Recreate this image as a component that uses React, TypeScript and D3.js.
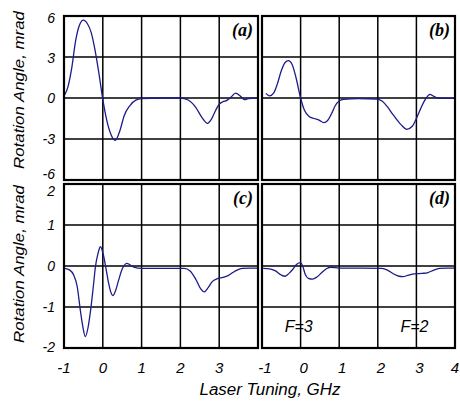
import React from "react";
import * as d3 from "d3";

// ---- data ----
const xTicks = [-1, 0, 1, 2, 3, 4];
const yTicksTop = [6, 3, 0, -3, -6];
const yTicksBottom = [2, 1, 0, -1, -2];

const seriesA: [number, number][] = [
  [-0.98, 0.25], [-0.9, 0.8], [-0.8, 2.2], [-0.7, 4.2], [-0.6, 5.35], [-0.5, 5.7],
  [-0.4, 5.45], [-0.3, 4.8], [-0.2, 3.5], [-0.1, 1.8], [0.0, -0.1], [0.1, -1.6],
  [0.2, -2.6], [0.32, -3.1], [0.45, -2.3], [0.55, -1.3], [0.7, -0.55], [0.85, -0.15],
  [1.0, -0.05], [1.5, 0], [2.0, 0], [2.2, -0.15], [2.4, -0.7], [2.55, -1.4],
  [2.7, -1.85], [2.8, -1.55], [2.9, -0.95], [3.0, -0.45], [3.1, -0.27], [3.2, -0.17],
  [3.3, 0.05], [3.42, 0.35], [3.55, 0.12], [3.65, -0.12], [3.75, -0.05], [3.98, 0],
];

const seriesB: [number, number][] = [
  [-0.9, 0.34], [-0.8, 0.15], [-0.7, 0.35], [-0.6, 1.05], [-0.5, 2.0], [-0.4, 2.6],
  [-0.32, 2.73], [-0.22, 2.45], [-0.12, 1.5], [0.0, 0.0], [0.1, -0.9], [0.22, -1.35],
  [0.35, -1.5], [0.48, -1.62], [0.6, -1.8], [0.7, -1.65], [0.8, -1.15], [0.9, -0.55],
  [1.0, -0.22], [1.11, -0.1], [1.5, -0.05], [1.97, -0.08], [2.1, -0.2], [2.25, -0.65],
  [2.4, -1.24], [2.6, -1.95], [2.75, -2.29], [2.9, -2.05], [3.0, -1.5], [3.1, -0.85],
  [3.2, -0.25], [3.28, 0.1], [3.35, 0.27], [3.45, 0.12], [3.55, 0.0], [3.7, -0.03],
  [4.0, -0.03],
];

const seriesC: [number, number][] = [
  [-0.98, -0.06], [-0.85, -0.1], [-0.75, -0.22], [-0.66, -0.5], [-0.58, -1.07],
  [-0.52, -1.45], [-0.45, -1.72], [-0.38, -1.5], [-0.32, -1.12], [-0.25, -0.55],
  [-0.19, -0.02], [-0.12, 0.32], [-0.06, 0.47], [0.02, 0.25], [0.08, -0.05],
  [0.15, -0.42], [0.2, -0.62], [0.26, -0.72], [0.33, -0.6], [0.41, -0.34],
  [0.48, -0.12], [0.54, -0.0], [0.62, 0.065], [0.7, 0.03], [0.8, -0.03],
  [1.0, -0.06], [1.5, -0.06], [2.1, -0.06], [2.25, -0.12], [2.4, -0.33],
  [2.52, -0.55], [2.62, -0.63], [2.72, -0.52], [2.82, -0.38], [2.95, -0.31],
  [3.1, -0.28], [3.24, -0.23], [3.35, -0.16], [3.46, -0.1], [3.6, -0.06],
  [3.8, -0.05], [4.0, -0.05],
];

const seriesD: [number, number][] = [
  [-0.97, -0.06], [-0.8, -0.07], [-0.65, -0.12], [-0.5, -0.22], [-0.4, -0.25],
  [-0.3, -0.18], [-0.2, -0.08], [-0.1, 0.04], [0.0, 0.08], [0.06, -0.02],
  [0.12, -0.2], [0.2, -0.3], [0.31, -0.32], [0.42, -0.27], [0.55, -0.16],
  [0.68, -0.06], [0.78, -0.03], [1.0, -0.05], [1.6, -0.05], [2.1, -0.06],
  [2.25, -0.1], [2.4, -0.19], [2.55, -0.25], [2.65, -0.26], [2.8, -0.22],
  [2.95, -0.19], [3.15, -0.18], [3.3, -0.16], [3.45, -0.1], [3.6, -0.06],
  [3.8, -0.05], [4.0, -0.05],
];

const panelLabels = ["(a)", "(b)", "(c)", "(d)"];
const yAxisLabel = "Rotation Angle, mrad";
const xAxisLabel = "Laser Tuning, GHz";
const hfsLabels: [number, string][] = [[-0.05, "F=3"], [2.95, "F=2"]];

// ---- layout ----
const cols = [
  { x0: 64, x1: 258 },
  { x0: 262, x1: 455 },
];
const rows = [
  { y0: 16, y1: 180, domain: [-6, 6], ticks: yTicksTop, dy: [7, 6, 5, 5, -1] },
  { y0: 184, y1: 348, domain: [-2, 2], ticks: yTicksBottom, dy: [12, 5, 5, 5, 4] },
];
const LINE = "#1c1c8a";
const SANS = "'Liberation Sans', Arial, Helvetica, sans-serif";
const SERIF = "'Liberation Serif', 'Times New Roman', serif";

type Panel = { c: number; r: number; data: [number, number][]; label: string };
const panels: Panel[] = [
  { c: 0, r: 0, data: seriesA, label: panelLabels[0] },
  { c: 1, r: 0, data: seriesB, label: panelLabels[1] },
  { c: 0, r: 1, data: seriesC, label: panelLabels[2] },
  { c: 1, r: 1, data: seriesD, label: panelLabels[3] },
];

function PanelView({ p }: { p: Panel }) {
  const col = cols[p.c];
  const row = rows[p.r];
  const x = d3.scaleLinear().domain([-1, 4]).range([col.x0, col.x1]);
  const y = d3.scaleLinear().domain(row.domain as [number, number]).range([row.y1, row.y0]);
  const line = d3
    .line<[number, number]>()
    .x((d) => x(d[0]))
    .y((d) => y(d[1]))
    .curve(d3.curveMonotoneX);
  const inner = xTicks.filter((t) => t > -1 && t < 4);
  const innerY = row.ticks.filter((t) => t > row.domain[0] && t < row.domain[1]);
  return (
    <g>
      {inner.map((t) => (
        <line key={"vx" + t} x1={x(t)} x2={x(t)} y1={row.y0} y2={row.y1} stroke="#000" strokeWidth={1.5} />
      ))}
      {innerY.map((t) => (
        <line key={"hy" + t} x1={col.x0} x2={col.x1} y1={y(t)} y2={y(t)} stroke="#000" strokeWidth={1.5} />
      ))}
      <path d={line(p.data) || ""} fill="none" stroke={LINE} strokeWidth={1.3} />
      <rect
        x={col.x0}
        y={row.y0}
        width={col.x1 - col.x0}
        height={row.y1 - row.y0}
        fill="none"
        stroke="#000"
        strokeWidth={2.2}
      />
      <text
        x={col.x1 - 5}
        y={row.y0 + 20}
        textAnchor="end"
        fontFamily={SERIF}
        fontWeight="bold"
        fontStyle="italic"
        fontSize={18}
      >
        {p.label}
      </text>
      {p.c === 0 &&
        row.ticks.map((t, i) => (
          <text
            key={"yl" + t}
            x={55}
            y={y(t) + row.dy[i]}
            textAnchor="end"
            fontFamily={SANS}
            fontStyle="italic"
            fontSize={14}
          >
            {t}
          </text>
        ))}
      {p.r === 1 &&
        xTicks
          .filter((t) => p.c === 1 || t < 4)
          .map((t) => (
            <text
              key={"xl" + t}
              x={Math.min(x(t) + (p.c === 1 ? 3 : 0), 455)}
              y={373}
              textAnchor="middle"
              fontFamily={SANS}
              fontStyle="italic"
              fontSize={15}
            >
              {t}
            </text>
          ))}
      {p.c === 1 &&
        p.r === 1 &&
        hfsLabels.map(([v, s]) => (
          <text
            key={s}
            x={x(v)}
            y={332}
            textAnchor="middle"
            fontFamily={SANS}
            fontStyle="italic"
            fontSize={16}
          >
            {s}
          </text>
        ))}
    </g>
  );
}

export default function App() {
  return (
    <svg
      width={460}
      height={401}
      style={{ position: "absolute", left: 0, top: 0, background: "#fff" }}
    >
      <rect x={0} y={0} width={460} height={401} fill="#fff" />
      {panels.map((p, i) => (
        <PanelView key={i} p={p} />
      ))}
      {[90, 264].map((cy, i) => (
        <text
          key={"yal" + i}
          transform={`translate(24,${cy}) rotate(-90)`}
          textAnchor="middle"
          fontFamily={SANS}
          fontStyle="italic"
          fontSize={15}
          textLength={158}
          lengthAdjust="spacingAndGlyphs"
        >
          {yAxisLabel}
        </text>
      ))}
      <text
        x={270}
        y={395}
        textAnchor="middle"
        fontFamily={SANS}
        fontStyle="italic"
        fontSize={16}
        textLength={141}
        lengthAdjust="spacingAndGlyphs"
      >
        {xAxisLabel}
      </text>
    </svg>
  );
}
